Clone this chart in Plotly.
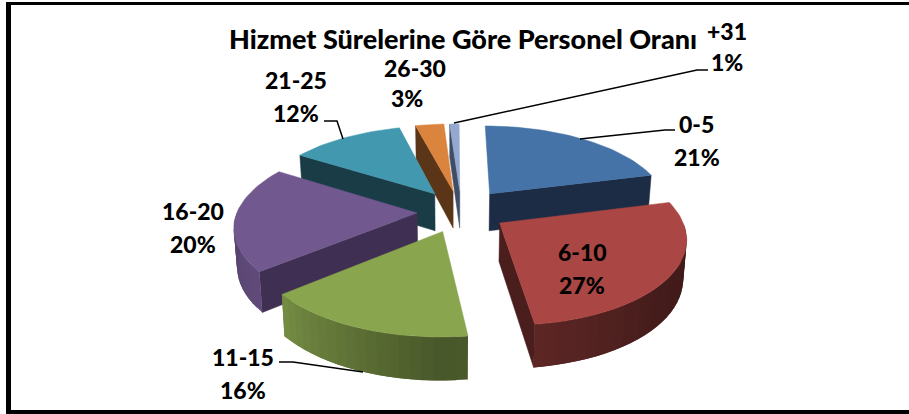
import math
import plotly.graph_objects as go

# ---- data
categories = ["0-5", "6-10", "11-15", "16-20", "21-25", "26-30", "+31"]
values = [21, 27, 16, 20, 12, 3, 1]
title_text = "Hizmet Sürelerine Göre Personel Oranı"

# ---- style
top_colors = ["#4572A7", "#AA4643", "#89A54E", "#71588F", "#4198AF", "#DB843D", "#93A9CF"]
side_colors = ["#1B2C44", "#4A1E1C", "#4A5726", "#3F2F52", "#1A3C47", "#5B3517", "#3F4D66"]
pull_x = [36, 44, -12, -38, -21, -2, 5]
pull_y = [-22, 8, 16, -2, -22, -25, -25]

CX, CY, R, KR, Q, H = 455, 215, 181, 84, 0.0018, 38
FONT = "Lato"


def project(X, a, bottom=False):
    s = 1 / (1 - Q * a)
    sx, sy = CX + s * X, CY + s * a
    if bottom:
        sx = CX + (sx - CX) * 0.985
        sy += H * s ** 0.7
    return sx, sy


def rim(i, theta):
    return pull_x[i] + R * math.sin(theta), pull_y[i] - KR * math.cos(theta)


def shade(hexcol, f):
    r, g, b = (int(hexcol[j:j + 2], 16) for j in (1, 3, 5))
    return f"rgb({r * f:.0f},{g * f:.0f},{b * f:.0f})"


def wall_factor(deg):
    stops = [(90, .36), (130, .40), (172, .54), (180, .53), (230, .85), (270, .76)]
    for (a0, f0), (a1, f1) in zip(stops, stops[1:]):
        if a0 <= deg <= a1:
            return f0 + (f1 - f0) * (deg - a0) / (a1 - a0)
    return stops[0][1] if deg < 90 else stops[-1][1]


fig = go.Figure()


def poly(pts, color, outline=True):
    xs = [p[0] for p in pts] + [pts[0][0]]
    ys = [p[1] for p in pts] + [pts[0][1]]
    fig.add_trace(go.Scatter(x=xs, y=ys, mode="lines", fill="toself", fillcolor=color,
                             line=dict(color=color, width=0.5 if outline else 0),
                             hoverinfo="skip", showlegend=False))


total = sum(values)
starts, ends = [], []
acc = 0
for v in values:
    starts.append(acc / total * 2 * math.pi)
    acc += v
    ends.append(acc / total * 2 * math.pi)

order = sorted(range(len(values)), key=lambda i: pull_y[i] - KR * math.cos((starts[i] + ends[i]) / 2) * 0.2)
for i in order:
    t0, t1 = starts[i], ends[i]
    apex = (pull_x[i], pull_y[i])
    # side walls that face the viewer
    for t, visible in ((t0, math.sin(t0) < -1e-6), (t1, math.sin(t1) > 1e-6)):
        if visible:
            p = rim(i, t)
            poly([project(*apex), project(*p), project(*p, True), project(*apex, True)], side_colors[i])
    # rim wall in narrow overlapping strips, painted in order so no seams show
    n = max(2, int(math.degrees(t1 - t0) / 3))
    step = (t1 - t0) / n
    for k in range(n):
        a = t0 + step * k
        b = min(a + 2 * step, t1)
        if math.cos(a + step / 2) < 0:
            pa, pb = rim(i, a), rim(i, b)
            poly([project(*pa), project(*pb), project(*pb, True), project(*pa, True)],
                 shade(top_colors[i], wall_factor(math.degrees(a + step / 2))), outline=False)
    # top face
    m = max(3, int(math.degrees(t1 - t0) / 2))
    pts = [project(*apex)] + [project(*rim(i, t0 + (t1 - t0) * k / m)) for k in range(m + 1)]
    poly(pts, top_colors[i])

# ---- labels: category line and value line
label_pos = [(696, 124, 697, 157), (582, 252, 582, 285), (243, 357, 243, 390), (193, 211, 193, 244),
             (296, 80, 296, 113), (415, 68, 407, 98), (727, 31, 727, 62)]
anns = []
label_font = dict(family=FONT, size=23, color="black", weight=900)
for c, v, (x1, y1, x2, y2) in zip(categories, values, label_pos):
    anns.append(dict(x=x1, y=y1, text=c, showarrow=False, font=label_font))
    anns.append(dict(x=x2, y=y2, text=f"{v}%", showarrow=False, font=label_font))
anns.append(dict(x=463, y=38, text=title_text, showarrow=False,
                 font=dict(family=FONT, size=27, color="black", weight=900)))

leaders = ["M580,139 L665,130 L675,130", "M454,123 L697,70 L708,70",
           "M324,121 L337,121 L343,139", "M279,362 L293,362 L363,372"]
shapes = [dict(type="path", path=p, line=dict(color="black", width=1.5)) for p in leaders]
for x0, y0, x1, y1 in [(6, 2, 11, 414), (6, 2, 909, 5), (6, 410, 909, 414)]:
    shapes.append(dict(type="rect", x0=x0, y0=y0, x1=x1, y1=y1, fillcolor="black", line=dict(width=0)))

fig.update_layout(width=909, height=414, autosize=False, margin=dict(l=0, r=0, t=0, b=0),
                  paper_bgcolor="white", plot_bgcolor="white", showlegend=False,
                  xaxis=dict(range=[0, 909], visible=False, fixedrange=True),
                  yaxis=dict(range=[414, 0], visible=False, fixedrange=True),
                  annotations=anns, shapes=shapes)
fig.write_html("out.html", post_script="document.body.style.margin='0';", config=dict(displayModeBar=False))
